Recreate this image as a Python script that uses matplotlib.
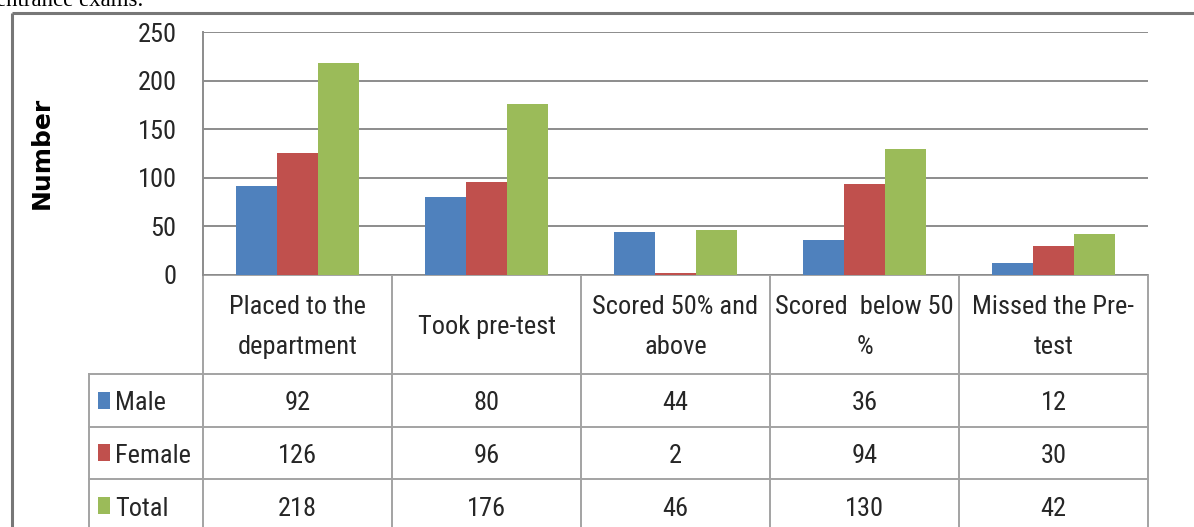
import numpy as np
import matplotlib
matplotlib.use("Agg")
import matplotlib.pyplot as plt
from matplotlib import font_manager

# pick a narrow sans face if one is around
names = {f.name for f in font_manager.fontManager.ttflist}
narrow = [n for n in ["Roboto Condensed", "Liberation Sans Narrow", "Open Sans Condensed",
                      "Lato"] if n in names]
plt.rcParams['font.family'] = narrow[:1] + ['DejaVu Sans']

# data
categories = [["Placed to the", "department"],
              ["Took pre-test"],
              ["Scored 50% and", "above"],
              ["Scored  below 50", "%"],
              ["Missed the Pre-", "test"]]
series = ["Male", "Female", "Total"]
male = [92, 80, 44, 36, 12]
female = [126, 96, 2, 94, 30]
total = [218, 176, 46, 130, 42]
yticks = [0, 50, 100, 150, 200, 250]

colors = ["#4F81BD", "#C0504D", "#9BBB59"]
grid_c = "#8c8c8c"
table_c = "#a3a3a3"
text_c = "#262626"
fs = 19

W, H = 1194, 527
fig = plt.figure(figsize=(W / 100, H / 100), dpi=100)

# full-figure canvas in pixel units for frame and table
cv = fig.add_axes([0, 0, 1, 1])
cv.set_xlim(0, W)
cv.set_ylim(H, 0)
cv.axis("off")

# plot area (pixels)
px0, px1 = 203, 1148
py0, py1 = 32, 275
ncat = len(categories)
cw = (px1 - px0) / ncat

ax = fig.add_axes([px0 / W, (H - py1) / H, (px1 - px0) / W, (py1 - py0) / H])
ax.patch.set_alpha(0)

x = np.arange(ncat)
w = 0.218
for i, vals in enumerate([male, female, total]):
    ax.bar(x + (i - 1) * w, vals, w, color=colors[i], lw=0, zorder=3)

ax.set_xlim(-0.5, ncat - 0.5)
ax.set_ylim(0, 250)
ax.set_yticks(yticks)
ax.set_yticklabels([str(t) for t in yticks], fontsize=fs, color=text_c)
ax.tick_params(axis="y", length=0, pad=19)
ax.set_xticks([])
ax.grid(axis="y", color=grid_c, lw=1.4, zorder=0)
ax.set_axisbelow(True)
for s in ["top", "right", "bottom"]:
    ax.spines[s].set_visible(False)
ax.spines["left"].set_color(grid_c)
ax.spines["left"].set_linewidth(1.4)

# outer frame
cv.plot([12, W], [13, 13], color="#777777", lw=2.2, solid_capstyle="butt")
cv.plot([12, 12], [13, H], color="#777777", lw=2.2, solid_capstyle="butt")

# caption line above the chart, mostly off the top
cv.text(-4, 6, "entrance exams.", family="Liberation Serif", fontsize=16.5,
        color="black", va="baseline", ha="left")

# y-axis title
cv.text(42, 153, "Number", rotation=90, family="DejaVu Sans", weight="bold",
        fontsize=18, color="black", ha="center", va="center")

# table grid
leg_x = 89
rows = [275, 374, 427, 479, 532]
cv.plot([px0, px1], [rows[0], rows[0]], color=table_c, lw=1.4)
for r in rows[1:4]:
    cv.plot([leg_x, px1], [r, r], color=table_c, lw=1.4)
for k in range(ncat + 1):
    cv.plot([px0 + k * cw] * 2, [rows[0], H], color=table_c, lw=1.4)
cv.plot([leg_x, leg_x], [rows[1], H], color=table_c, lw=1.4)

# header row
for k, lines in enumerate(categories):
    cx = px0 + (k + 0.5) * cw
    if len(lines) == 1:
        cv.text(cx, 334, lines[0], fontsize=fs, color=text_c, ha="center", va="baseline")
    else:
        cv.text(cx, 314, lines[0], fontsize=fs, color=text_c, ha="center", va="baseline")
        cv.text(cx, 354, lines[1], fontsize=fs, color=text_c, ha="center", va="baseline")

# value rows with legend keys
for j, (name, vals) in enumerate(zip(series, [male, female, total])):
    top, bot = rows[j + 1], rows[j + 2]
    base = (top + bot) / 2 + 10
    cv.add_patch(plt.Rectangle((98, base - 19), 12, 17, color=colors[j], lw=0))
    cv.text(115, base, name, fontsize=fs, color=text_c, ha="left", va="baseline")
    for k, v in enumerate(vals):
        cv.text(px0 + (k + 0.5) * cw, base, str(v), fontsize=fs, color=text_c,
                ha="center", va="baseline")

fig.savefig("out.png", dpi=100, facecolor="white")
